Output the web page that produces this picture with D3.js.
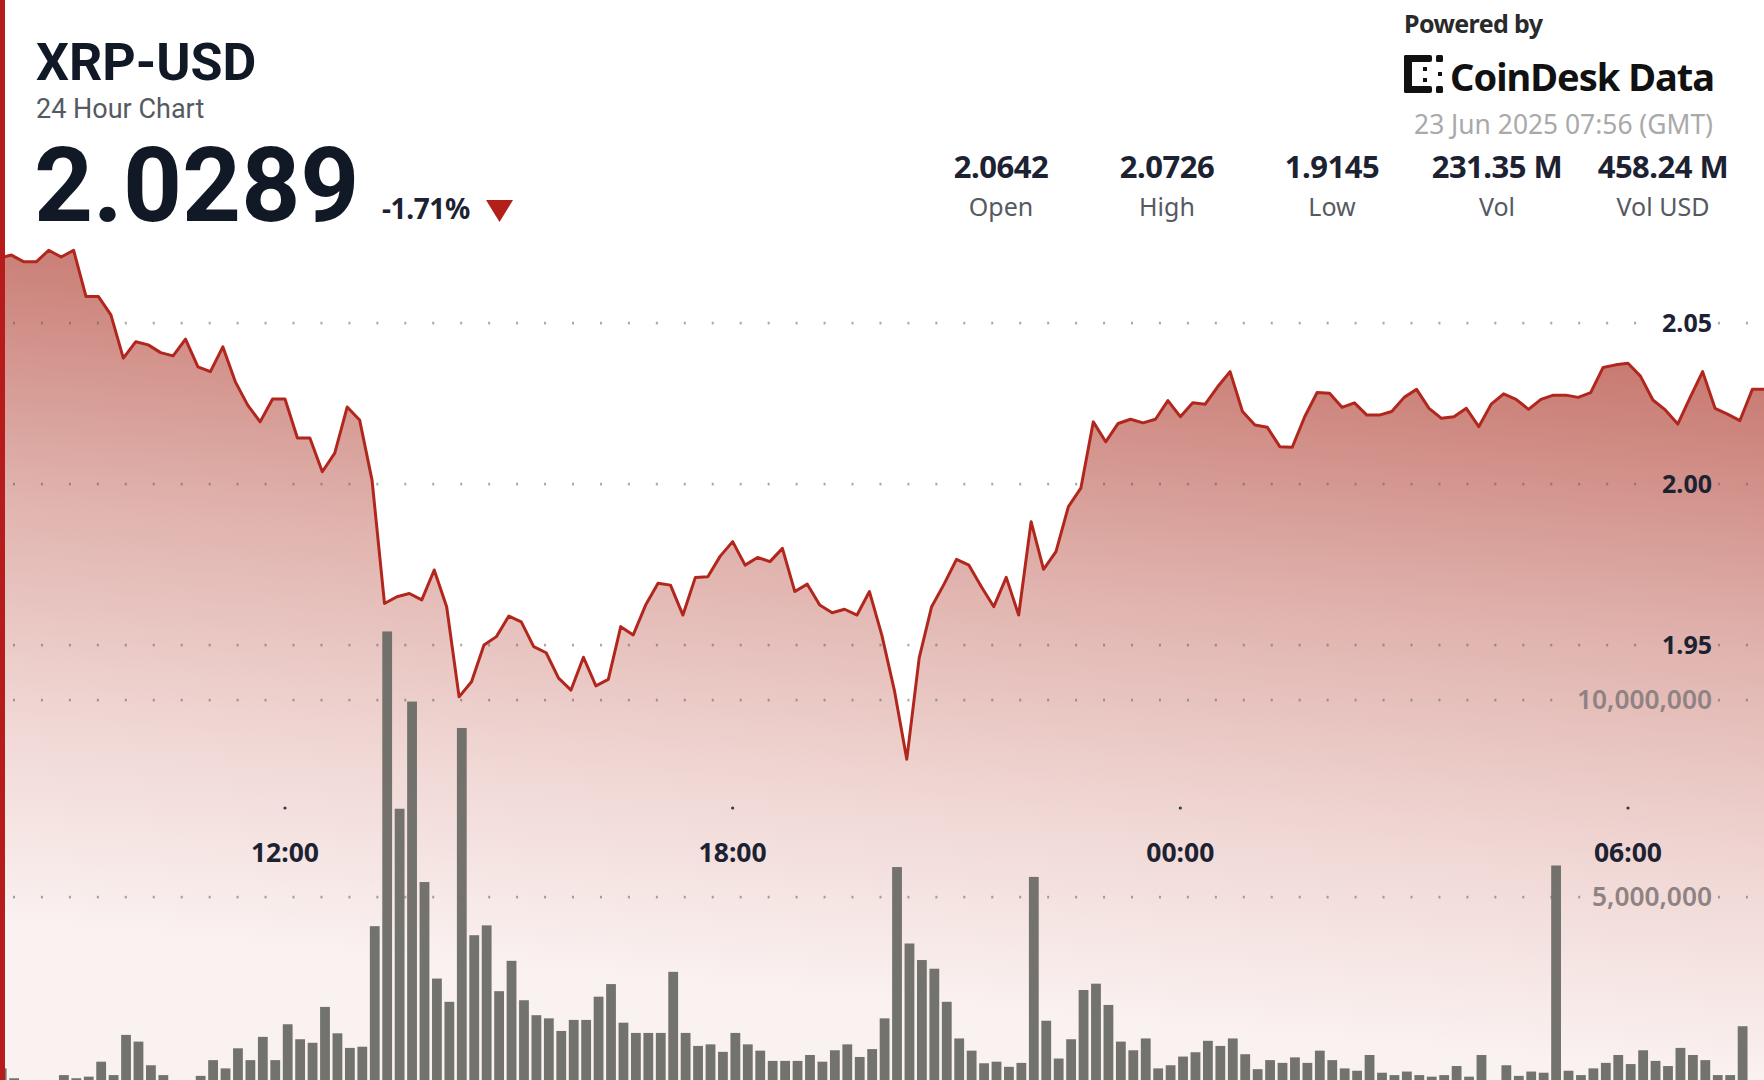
<!DOCTYPE html>
<html>
<head>
<meta charset="utf-8">
<script src="https://cdn.jsdelivr.net/npm/d3@7"></script>
<style>
  html, body { margin: 0; padding: 0; background: #ffffff; }
  svg { display: block; font-family: "Noto Sans", "Open Sans", sans-serif; }
</style>
</head>
<body>
<svg id="chart" width="1764" height="1080"></svg>
<script>
// ---------------- DATA ----------------
const symbol = "XRP-USD";
const subtitle = "24 Hour Chart";
const lastPrice = "2.0289";
const changePct = "-1.71%";
const poweredBy = "Powered by";
const brand = "CoinDesk Data";
const stamp = "23 Jun 2025 07:56 (GMT)";
const statValues = ["2.0642", "2.0726", "1.9145", "231.35 M", "458.24 M"];
const statLabels = ["Open", "High", "Low", "Vol", "Vol USD"];

const startTime = Date.UTC(2025, 5, 22, 8, 10); // first 10-minute sample
const stepMinutes = 10;

const priceValues = [
  2.0701, 2.0711, 2.0690, 2.0690, 2.0726, 2.0705, 2.0726, 2.0582, 2.0582, 2.0525,
  2.0391, 2.0442, 2.0432, 2.0408, 2.0398, 2.0450, 2.0364, 2.0349, 2.0426, 2.0318,
  2.0245, 2.0193, 2.0264, 2.0264, 2.0143, 2.0143, 2.0038, 2.0096, 2.0239, 2.0199,
  2.0012, 1.9629, 1.9650, 1.9660, 1.9640, 1.9733, 1.9619, 1.9339, 1.9386, 1.9500,
  1.9526, 1.9590, 1.9572, 1.9495, 1.9476, 1.9397, 1.9360, 1.9462, 1.9373, 1.9393,
  1.9557, 1.9531, 1.9624, 1.9692, 1.9686, 1.9593, 1.9710, 1.9712, 1.9776, 1.9821,
  1.9748, 1.9772, 1.9759, 1.9800, 1.9666, 1.9689, 1.9624, 1.9600, 1.9611, 1.9593,
  1.9666, 1.9530, 1.9360, 1.9145, 1.9460, 1.9619, 1.9689, 1.9766, 1.9748, 1.9681,
  1.9619, 1.9710, 1.9593, 1.9883, 1.9735, 1.9790, 1.9930, 1.9987, 2.0193, 2.0131,
  2.0188, 2.0201, 2.0190, 2.0201, 2.0259, 2.0209, 2.0252, 2.0248, 2.0302, 2.0349,
  2.0225, 2.0183, 2.0176, 2.0116, 2.0114, 2.0209, 2.0284, 2.0282, 2.0238, 2.0252,
  2.0214, 2.0214, 2.0225, 2.0269, 2.0294, 2.0235, 2.0204, 2.0209, 2.0235, 2.0178,
  2.0248, 2.0280, 2.0263, 2.0232, 2.0263, 2.0276, 2.0276, 2.0269, 2.0284, 2.0362,
  2.0370, 2.0375, 2.0335, 2.0261, 2.0230, 2.0186, 2.0269, 2.0349, 2.0235, 2.0217,
  2.0197, 2.0294, 2.0294
];

// volume per 10-minute bar, in millions of XRP
const volumeValues = [
  0.65, 0.40, 0.30, 0.30, 0.32, 0.48, 0.40, 0.44, 0.82, 0.48,
  1.50, 1.33, 0.73, 0.48, 0.35, 0.30, 0.46, 0.86, 0.65, 1.16,
  0.86, 1.45, 0.86, 1.77, 1.39, 1.30, 2.21, 1.54, 1.17, 1.20,
  4.26, 11.74, 7.24, 9.96, 5.38, 2.93, 2.34, 9.29, 4.03, 4.28,
  2.61, 3.38, 2.38, 2.00, 1.92, 1.60, 1.88, 1.88, 2.47, 2.79,
  1.81, 1.55, 1.55, 1.55, 3.10, 1.55, 1.22, 1.26, 1.07, 1.55,
  1.26, 1.10, 0.84, 0.84, 0.84, 0.99, 0.82, 1.11, 1.26, 0.94,
  1.14, 1.92, 5.76, 3.82, 3.40, 3.18, 2.34, 1.41, 1.10, 0.78,
  0.82, 0.69, 0.79, 5.51, 1.86, 0.90, 1.39, 2.64, 2.80, 2.26,
  1.33, 1.11, 1.41, 0.65, 0.73, 0.95, 1.06, 1.35, 1.22, 1.41,
  1.01, 0.63, 0.86, 0.79, 0.93, 0.79, 1.10, 0.86, 0.65, 0.59,
  0.99, 0.54, 0.48, 0.57, 0.48, 0.44, 0.48, 0.71, 0.44, 0.99,
  0.35, 0.73, 0.46, 0.57, 0.54, 5.80, 0.59, 0.48, 0.65, 0.79,
  0.99, 0.76, 1.11, 0.84, 0.71, 1.17, 0.99, 0.86, 0.48, 0.48,
  1.72, 0.30, 0.30
];

const priceTicks = [1.95, 2.00, 2.05];
const volumeTicks = [5000000, 10000000];
const timeTickLabels = ["12:00", "18:00", "00:00", "06:00"];
const timeTickDates = [Date.UTC(2025,5,22,12), Date.UTC(2025,5,22,18), Date.UTC(2025,5,23,0), Date.UTC(2025,5,23,6)];

// ---------------- BUILD ----------------
const W = 1764, H = 1080;
const svg = d3.select("#chart");

const points = priceValues.map((p, i) => ({
  t: new Date(startTime + i * stepMinutes * 60000),
  p: p,
  v: volumeValues[i] * 1e6
}));

const x = d3.scaleUtc()
  .domain([new Date(timeTickDates[0]), new Date(timeTickDates[3])])
  .range([285, 1628]);
const y = d3.scaleLinear().domain([1.95, 2.05]).range([645, 323]);
const yv = d3.scaleLinear().domain([0, 10000000]).range([1094, 700]);

const defs = svg.append("defs");
const grad = defs.append("linearGradient")
  .attr("id", "areaGrad")
  .attr("gradientUnits", "userSpaceOnUse")
  .attr("x1", 1764).attr("y1", 240)
  .attr("x2", 1690).attr("y2", 1077);
[[0, "rgb(190,96,86)"], [0.22, "rgb(204,132,124)"], [0.48, "rgb(224,178,173)"],
 [0.75, "rgb(240,215,212)"], [1, "rgb(250,242,241)"]].forEach(s =>
  grad.append("stop").attr("offset", s[0]).attr("stop-color", s[1]));

defs.append("clipPath").attr("id", "plotClip")
  .append("rect").attr("x", 0).attr("y", 0).attr("width", W).attr("height", H);

const plot = svg.append("g").attr("clip-path", "url(#plotClip)");

// area
const area = d3.area().x(d => x(d.t)).y0(H + 10).y1(d => y(d.p)).curve(d3.curveLinear);
plot.append("path").datum(points).attr("d", area).attr("fill", "url(#areaGrad)");

// dotted grid lines with gaps for labels
const labelRight = 1712;
function gridRow(yPos, labelW) {
  const left = labelRight - labelW - 6, right = labelRight + 6;
  const xs = d3.range(14, W, 27.95).filter(px => px < left || px > right);
  plot.append("g").selectAll("rect").data(xs).join("rect")
    .attr("x", d => d - 1).attr("y", yPos - 1.2)
    .attr("width", 2).attr("height", 2.6)
    .attr("fill", "rgba(95,95,95,0.55)");
}
priceTicks.forEach(t => gridRow(y(t), 52));
volumeTicks.forEach(t => gridRow(yv(t), t >= 1e7 ? 138 : 123));

// volume bars
const barW = 9.8;
plot.append("g").selectAll("rect").data(points).join("rect")
  .attr("x", d => x(d.t) - 2.2)
  .attr("y", d => yv(d.v))
  .attr("width", barW)
  .attr("height", d => yv(0) - yv(d.v))
  .attr("fill", "#6c6c66")
  .attr("opacity", 0.95);

// price line
const line = d3.line().x(d => x(d.t)).y(d => y(d.p));
plot.append("path").datum(points).attr("d", line)
  .attr("fill", "none").attr("stroke", "#b2271d")
  .attr("stroke-width", 3).attr("stroke-linejoin", "round");

// axis labels (price)
const fmtP = d3.format(".2f");
svg.append("g").selectAll("text").data(priceTicks).join("text")
  .attr("x", labelRight).attr("y", d => y(d) + 9)
  .attr("text-anchor", "end")
  .attr("font-size", 25).attr("font-weight", 700).attr("fill", "#1c2232")
  .text(d => fmtP(d));

// volume labels
const fmtV = d3.format(",");
svg.append("g").selectAll("text").data(volumeTicks).join("text")
  .attr("x", labelRight).attr("y", d => yv(d) + 9)
  .attr("text-anchor", "end")
  .attr("font-size", 26.3).attr("font-weight", 600).attr("fill", "#8e8282")
  .text(d => fmtV(d));

// time axis
const tg = svg.append("g");
tg.selectAll("circle").data(timeTickDates).join("circle")
  .attr("cx", d => x(new Date(d))).attr("cy", 808).attr("r", 1.6).attr("fill", "#333a48");
tg.selectAll("text").data(timeTickDates).join("text")
  .attr("x", d => x(new Date(d))).attr("y", 862)
  .attr("text-anchor", "middle")
  .attr("font-size", 26.5).attr("font-weight", 700).attr("fill", "#1c2232")
  .text((d, i) => timeTickLabels[i]);

// left accent bar
svg.append("rect").attr("x", 0).attr("y", 0).attr("width", 5).attr("height", H).attr("fill", "#b71c1c");

// header left
svg.append("text").attr("x", 36).attr("y", 80)
  .attr("font-family", "Roboto, 'Noto Sans', sans-serif")
  .attr("font-size", 52).attr("font-weight", 700).attr("fill", "#111826").text(symbol);
svg.append("text").attr("x", 36).attr("y", 118)
  .attr("font-family", "Roboto, 'Noto Sans', sans-serif")
  .attr("font-size", 27).attr("font-weight", 400).attr("fill", "#555a62").text(subtitle);
svg.append("text").attr("x", 34).attr("y", 221)
  .attr("font-family", "Roboto, 'Noto Sans', sans-serif")
  .attr("font-size", 103).attr("font-weight", 700).attr("fill", "#111826")
  .text(lastPrice);
svg.append("text").attr("x", 382).attr("y", 219)
  .attr("font-size", 28).attr("font-weight", 700).attr("fill", "#1c2232")
  .attr("letter-spacing", -0.4).text(changePct);
svg.append("path").attr("d", "M486,200 L513,200 L499.5,222 Z").attr("fill", "#b3201a");

// header right
svg.append("text").attr("x", 1404).attr("y", 33)
  .attr("font-size", 25).attr("font-weight", 700).attr("fill", "#2a2a2a")
  .attr("letter-spacing", -0.6).text(poweredBy);
const logo = svg.append("g").attr("fill", "#111");
logo.append("rect").attr("x", 1404).attr("y", 55).attr("width", 8).attr("height", 38).attr("rx", 2);
logo.append("rect").attr("x", 1404).attr("y", 55).attr("width", 28).attr("height", 7).attr("rx", 2);
logo.append("rect").attr("x", 1404).attr("y", 86).attr("width", 28).attr("height", 7).attr("rx", 2);
logo.append("rect").attr("x", 1436).attr("y", 55).attr("width", 7).attr("height", 7).attr("rx", 1.5);
logo.append("rect").attr("x", 1436).attr("y", 86).attr("width", 7).attr("height", 7).attr("rx", 1.5);
logo.append("rect").attr("x", 1423).attr("y", 67).attr("width", 4).attr("height", 4);
logo.append("rect").attr("x", 1423).attr("y", 78).attr("width", 4).attr("height", 4);
logo.append("rect").attr("x", 1438).attr("y", 72).attr("width", 4).attr("height", 4);
svg.append("text").attr("x", 1450).attr("y", 91)
  .attr("font-size", 38).attr("font-weight", 700).attr("fill", "#111")
  .attr("letter-spacing", -1).text(brand);
svg.append("text").attr("x", 1713).attr("y", 134)
  .attr("text-anchor", "end")
  .attr("font-size", 26.4).attr("font-weight", 400).attr("fill", "#a9a9a9")
  .text(stamp);

// stats
const statX = [1001, 1167, 1332, 1497, 1663];
const sg = svg.append("g");
sg.selectAll("text.v").data(statValues).join("text").attr("class", "v")
  .attr("x", (d, i) => statX[i]).attr("y", 178).attr("text-anchor", "middle")
  .attr("font-size", 31).attr("font-weight", 700).attr("fill", "#1c2232")
  .attr("letter-spacing", -0.5).text(d => d);
sg.selectAll("text.l").data(statLabels).join("text").attr("class", "l")
  .attr("x", (d, i) => statX[i]).attr("y", 216).attr("text-anchor", "middle")
  .attr("font-size", 25).attr("font-weight", 400).attr("fill", "#555a62")
  .text(d => d);
</script>
</body>
</html>
